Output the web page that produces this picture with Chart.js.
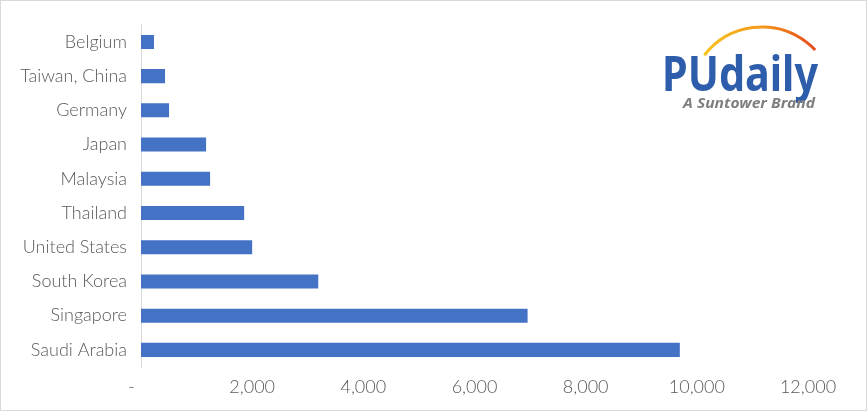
<!DOCTYPE html>
<html>
<head>
<meta charset="utf-8">
<script src="https://cdn.jsdelivr.net/npm/chart.js@4/dist/chart.umd.min.js"></script>
<style>
  html, body { margin: 0; padding: 0; background: #fff; }
  canvas { display: block; }
</style>
</head>
<body>
<canvas id="chart" width="867" height="411"></canvas>
<script>
const countries = ['Belgium', 'Taiwan, China', 'Germany', 'Japan', 'Malaysia', 'Thailand',
  'United States', 'South Korea', 'Singapore', 'Saudi Arabia'];
const volumes = [234, 432, 505, 1171, 1243, 1856, 2000, 3189, 6955, 9694];
const xMax = 12000;
const xStep = 2000;

const labelFont = { family: 'Lato', size: 18, weight: 300 };

// frame + PUdaily logo drawn on top of the chart
const decor = {
  id: 'decor',
  afterDraw(chart) {
    const ctx = chart.ctx;
    ctx.save();
    ctx.strokeStyle = '#d9d9d9';
    ctx.lineWidth = 1;
    ctx.strokeRect(0.5, 0.5, chart.width - 1, chart.height - 1);

    // arc
    const grad = ctx.createLinearGradient(703, 0, 818, 0);
    grad.addColorStop(0, '#f7c21a');
    grad.addColorStop(0.5, '#f49a1c');
    grad.addColorStop(1, '#e5461e');
    ctx.strokeStyle = grad;
    ctx.lineWidth = 3;
    ctx.beginPath();
    ctx.arc(762, 100, 73, Math.PI * 1.21, Math.PI * 1.76);
    ctx.stroke();

    // wordmark
    ctx.fillStyle = '#2d5dab';
    ctx.font = 'bold 48px "Noto Sans"';
    ctx.textBaseline = 'alphabetic';
    let w = ctx.measureText('PUdaily').width;
    ctx.save();
    ctx.translate(662, 91);
    ctx.scale(156 / w, 1);
    ctx.fillText('PUdaily', 0, 0);
    ctx.restore();

    ctx.fillStyle = '#7f7f7f';
    ctx.font = 'italic bold 14px "Noto Sans"';
    w = ctx.measureText('A Suntower Brand').width;
    ctx.save();
    ctx.translate(683, 108);
    ctx.scale(132 / w, 1);
    ctx.fillText('A Suntower Brand', 0, 0);
    ctx.restore();
    ctx.restore();
  }
};

new Chart(document.getElementById('chart'), {
  type: 'bar',
  data: {
    labels: countries,
    datasets: [{
      data: volumes,
      backgroundColor: '#4472c4',
      barPercentage: 0.41,
      categoryPercentage: 1
    }]
  },
  options: {
    indexAxis: 'y',
    responsive: false,
    animation: false,
    events: [],
    layout: { padding: { left: 0, top: 24, right: 59, bottom: 0 } },
    plugins: { legend: { display: false }, tooltip: { enabled: false } },
    scales: {
      x: {
        min: 0,
        max: xMax,
        afterFit: (s) => { s.height = 44; },
        grid: { display: false, drawTicks: false },
        border: { display: false },
        ticks: {
          stepSize: xStep,
          padding: 9,
          color: '#595959',
          font: labelFont,
          callback: (v) => v === 0 ? '-    ' : v.toLocaleString('en-US')
        }
      },
      y: {
        afterFit: (s) => { s.width = 141; },
        grid: { display: false, drawTicks: false },
        border: { color: '#d9d9d9', width: 1 },
        ticks: {
          padding: 14,
          color: '#595959',
          font: labelFont
        }
      }
    }
  },
  plugins: [decor]
});
</script>
</body>
</html>
